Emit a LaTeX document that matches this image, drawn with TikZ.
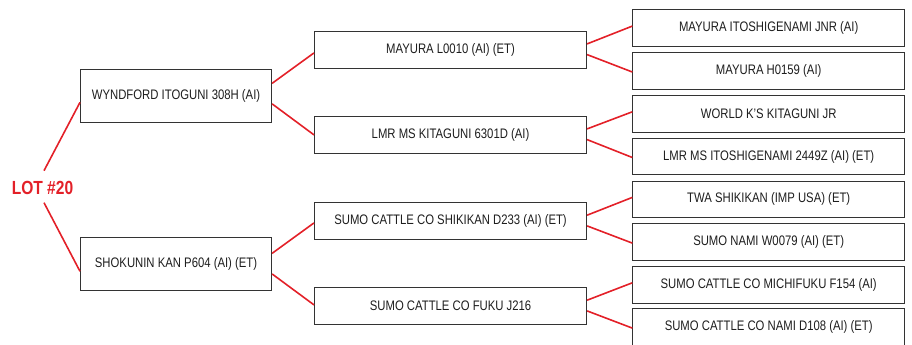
\documentclass[tikz,border=0pt]{standalone}
\usepackage{fontspec}
\setmainfont{Liberation Sans}[FakeStretch=0.82]
\usetikzlibrary{calc}
\definecolor{lred}{HTML}{E32028}
\definecolor{bord}{HTML}{333333}
\definecolor{txt}{HTML}{1E1E1E}
\begin{document}
\begin{tikzpicture}[x=1pt,y=-1pt,
  box/.style={draw=bord,line width=1.1pt,fill=white,anchor=north west,inner sep=0pt,
    font=\fontsize{13.8}{16}\selectfont,text=txt},
  gone/.style={box,minimum width=191pt,minimum height=53pt},
  gtwo/.style={box,minimum width=272pt,minimum height=36.7pt},
  gthree/.style={box,minimum width=271.7pt,minimum height=36.5pt},
  link/.style={draw=lred,line width=1.6pt}]
\useasboundingbox (0,0) rectangle (912,345);

% lot label
\node[font=\bfseries\fontsize{19}{22}\selectfont,text=lred,inner sep=0pt] (L) at (42.5,187.7) {LOT \#20};

% generation 1
\node[gone] (a1) at (80,69.3) {WYNDFORD ITOGUNI 308H (AI)};
\node[gone] (a2) at (80,237.3) {SHOKUNIN KAN P604 (AI) (ET)};

% generation 2
\node[gtwo] (b1) at (314,31) {MAYURA L0010 (AI) (ET)};
\node[gtwo] (b2) at (314,116) {LMR MS KITAGUNI 6301D (AI)};
\node[gtwo] (b3) at (314,202.3) {SUMO CATTLE CO SHIKIKAN D233 (AI) (ET)};
\node[gtwo] (b4) at (314,287.3) {SUMO CATTLE CO FUKU J216};

% generation 3
\node[gthree] (c1) at (632.3,9.3) {MAYURA ITOSHIGENAMI JNR (AI)};
\node[gthree] (c2) at (632.3,52.2) {MAYURA H0159 (AI)};
\node[gthree] (c3) at (632.3,95) {WORLD K'S KITAGUNI JR};
\node[gthree] (c4) at (632.3,137.7) {LMR MS ITOSHIGENAMI 2449Z (AI) (ET)};
\node[gthree] (c5) at (632.3,180.6) {TWA SHIKIKAN (IMP USA) (ET)};
\node[gthree] (c6) at (632.3,223.3) {SUMO NAMI W0079 (AI) (ET)};
\node[gthree] (c7) at (632.3,266) {SUMO CATTLE CO MICHIFUKU F154 (AI)};
\node[gthree] (c8) at (632.3,308.3) {SUMO CATTLE CO NAMI D108 (AI) (ET)};

% connectors: lot -> gen1
\draw[link] ($(L.center)+(1.5,-17)$) -- ($(a1.west)+(0,6)$);
\draw[link] ($(L.center)+(1.5,15)$) -- ($(a2.west)+(0,7)$);

% gen1 -> gen2
\draw[link] ($(a1.east)+(0,-13)$) -- ($(b1.west)+(0,3)$);
\draw[link] ($(a1.east)+(0,7.5)$) -- ($(b2.west)+(0,0)$);
\draw[link] ($(a2.east)+(0,-11)$) -- ($(b3.west)+(0,1.7)$);
\draw[link] ($(a2.east)+(0,9.6)$) -- ($(b4.west)+(0,-1.3)$);

% gen2 -> gen3
\draw[link] ($(b1.east)+(0,-6)$) -- ($(c1.west)+(0,-2)$);
\draw[link] ($(b1.east)+(0,4.7)$) -- ($(c2.west)+(0,1)$);
\draw[link] ($(b2.east)+(0,-6)$) -- ($(c3.west)+(0,-2)$);
\draw[link] ($(b2.east)+(0,4.7)$) -- ($(c4.west)+(0,1)$);
\draw[link] ($(b3.east)+(0,-6)$) -- ($(c5.west)+(0,-2)$);
\draw[link] ($(b3.east)+(0,4.7)$) -- ($(c6.west)+(0,1)$);
\draw[link] ($(b4.east)+(0,-6)$) -- ($(c7.west)+(0,-2)$);
\draw[link] ($(b4.east)+(0,4.7)$) -- ($(c8.west)+(0,1)$);
\end{tikzpicture}
\end{document}
